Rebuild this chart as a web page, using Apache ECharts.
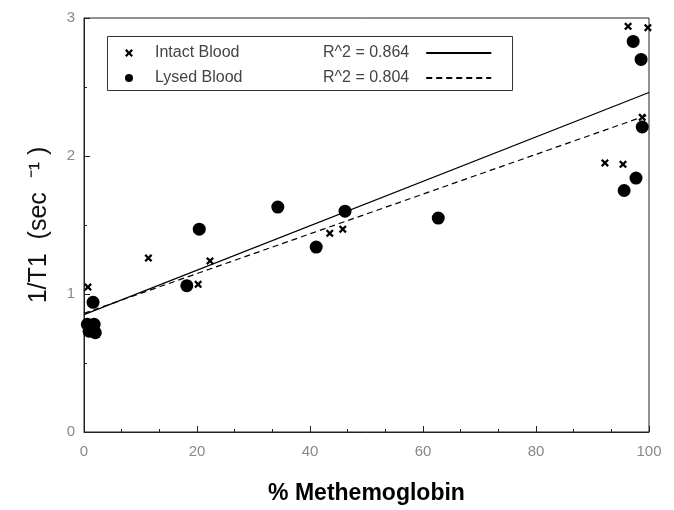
<!DOCTYPE html>
<html>
<head>
<meta charset="utf-8">
<script src="https://cdn.jsdelivr.net/npm/echarts@6/dist/echarts.min.js"></script>
<style>
  html, body { margin: 0; padding: 0; background: #fff; }
  #chart { width: 674px; height: 510px; }
</style>
</head>
<body>
<div id="chart"></div>
<script>
// values: [% methemoglobin, 1/T1]
var intactBlood = [
  [0.7, 1.05], [11.4, 1.26], [20.2, 1.07], [22.3, 1.24], [43.5, 1.44],
  [45.8, 1.47], [92.2, 1.95], [95.4, 1.94], [96.3, 2.94], [99.8, 2.93],
  [98.8, 2.28]
];
var lysedBlood = [
  [1.6, 0.94], [0.6, 0.78], [1.8, 0.78], [0.9, 0.73], [2.0, 0.72],
  [18.2, 1.06], [20.4, 1.47], [34.3, 1.63], [41.1, 1.34], [46.2, 1.60],
  [62.7, 1.55], [95.6, 1.75], [97.7, 1.84], [98.8, 2.21], [97.2, 2.83],
  [98.6, 2.70]
];
// regression lines (end points)
var intactFit = [[0, 0.85], [100, 2.46]];
var lysedFit = [[0, 0.86], [100, 2.30]];
var intactR2 = 'R^2 = 0.864';
var lysedR2 = 'R^2 = 0.804';

// thick x marker
var crossPath = 'path://M0,2L2,0L5,3L8,0L10,2L7,5L10,8L8,10L5,7L2,10L0,8L3,5Z';
var labelFont = { color: '#888', fontSize: 15, fontFamily: 'Liberation Sans' };

var chart = echarts.init(document.getElementById('chart'));
var option = {
  backgroundColor: '#fff',
  animation: false,
  grid: {
    left: 84, right: 25, top: 18, bottom: 77,
    show: true, borderColor: '#222', borderWidth: 1
  },
  graphic: [{
    type: 'rect',
    left: 105, top: 34,
    shape: { width: 405, height: 54 },
    style: { fill: 'none', stroke: '#333', lineWidth: 1 }
  }],
  legend: [{
    orient: 'vertical',
    left: 120, top: 40,
    itemWidth: 8, itemHeight: 10, itemGap: 9,
    data: [
      { name: 'Intact Blood', icon: crossPath },
      { name: 'Lysed Blood', icon: 'circle' }
    ],
    textStyle: { color: '#444', fontSize: 16, fontFamily: 'Liberation Sans', padding: [0, 0, 0, 17] }
  }, {
    orient: 'vertical',
    left: 318, top: 40,
    align: 'right',
    itemWidth: 65, itemHeight: 10, itemGap: 9,
    data: [
      { name: intactR2, itemStyle: { opacity: 0 } },
      { name: lysedR2, itemStyle: { opacity: 0 } }
    ],
    textStyle: { color: '#444', fontSize: 16, fontFamily: 'Liberation Sans', padding: [0, 12, 0, 0] }
  }],
  xAxis: {
    type: 'value',
    min: 0, max: 100, interval: 20,
    name: '% Methemoglobin',
    nameLocation: 'middle',
    nameGap: 50,
    nameTextStyle: { color: '#000', fontSize: 23, fontWeight: 'bold', fontFamily: 'Liberation Sans' },
    axisLine: { show: true, lineStyle: { color: '#222' } },
    axisTick: { inside: true, length: 6, lineStyle: { color: '#222' } },
    minorTick: { show: true, splitNumber: 3, length: 3, lineStyle: { color: '#222' } },
    splitLine: { show: false },
    axisLabel: Object.assign({ margin: 12 }, labelFont)
  },
  yAxis: {
    type: 'value',
    min: 0, max: 3, interval: 1,
    name: '1/T1  (sec  \u207B\u00B9 )',
    nameLocation: 'middle',
    nameGap: 32,
    nameTextStyle: { color: '#111', fontSize: 25, fontFamily: 'Liberation Sans' },
    axisLine: { show: true, lineStyle: { color: '#222' } },
    axisTick: { inside: true, length: 6, lineStyle: { color: '#222' } },
    minorTick: { show: true, splitNumber: 2, length: 3, lineStyle: { color: '#222' } },
    splitLine: { show: false },
    axisLabel: Object.assign({ margin: 9 }, labelFont)
  },
  series: [{
    name: 'Intact Blood',
    type: 'scatter',
    symbol: crossPath,
    symbolSize: 8,
    itemStyle: { color: '#000', opacity: 1 },
    data: intactBlood,
    z: 3
  }, {
    name: 'Lysed Blood',
    type: 'scatter',
    symbol: 'circle',
    symbolSize: 13,
    itemStyle: { color: '#000', opacity: 1 },
    data: lysedBlood,
    z: 3
  }, {
    name: intactR2,
    type: 'line',
    symbol: 'none',
    lineStyle: { color: '#000', width: 1.3 },
    itemStyle: { color: '#000' },
    data: intactFit
  }, {
    name: lysedR2,
    type: 'line',
    symbol: 'none',
    lineStyle: { color: '#000', width: 1.2, type: [6, 4] },
    itemStyle: { color: '#000' },
    data: lysedFit
  }]
};
chart.setOption(option);
</script>
</body>
</html>
